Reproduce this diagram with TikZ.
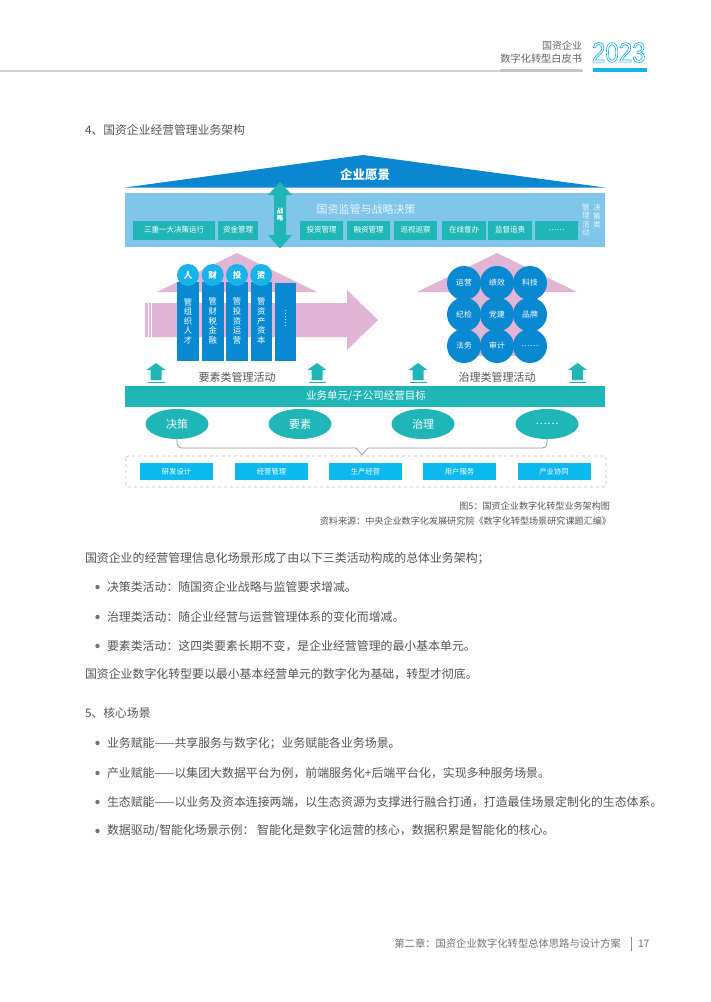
\documentclass[tikz,border=0pt]{standalone}
\usepackage{fontspec}
\setmainfont{Noto Sans CJK SC}
\newfontfamily\digitfont{Liberation Sans}
\usetikzlibrary{shapes.geometric,calc}
\definecolor{roofblue}{HTML}{0B87D1}
\definecolor{lightblue}{HTML}{80C5EA}
\definecolor{tealc}{HTML}{20B6B8}
\definecolor{colblue}{HTML}{0A89D3}
\definecolor{cyanc}{HTML}{19B3EC}
\definecolor{boxcyan}{HTML}{0BB9EF}
\definecolor{pinkc}{HTML}{E0B5D6}
\definecolor{txtgray}{HTML}{555555}
\definecolor{palewhite}{HTML}{E8F5FC}
\begin{document}
\begin{tikzpicture}[x=1pt,y=-1pt,
  every node/.style={inner sep=0pt,outer sep=0pt},
  tbox/.style={fill=tealc,text=white,font=\fontsize{7.5}{9}\selectfont,minimum height=19pt},
  cbox/.style={fill=boxcyan,text=white,font=\fontsize{7.3}{9}\selectfont,minimum height=17pt,minimum width=73pt},
  oval/.style={ellipse,fill=tealc,text=white,font=\fontsize{11}{13}\selectfont,minimum width=63pt,minimum height=30pt},
  colbar/.style={fill=colblue},
  coltext/.style={text=white,font=\fontsize{8.3}{9.6}\selectfont,align=center},
  topcirc/.style={circle,fill=cyanc,text=white,font=\bfseries\fontsize{8.5}{9}\selectfont,minimum size=22pt},
  gcirc/.style={circle,fill=colblue,text=white,font=\fontsize{7.8}{9}\selectfont,minimum size=34pt},
  bodytext/.style={anchor=west,text=txtgray,font=\fontsize{11.9}{13}\selectfont},
  headtext/.style={anchor=west,text=txtgray,font=\fontsize{11.8}{13}\selectfont},
  capt/.style={anchor=east,text=txtgray,font=\fontsize{9.1}{10}\selectfont},
  uparrow/.pic={\fill[tealc] (-9.5,7) -- (0,0) -- (9.5,7) -- (5.5,7) -- (5.5,17) -- (-5.5,17) -- (-5.5,7) -- cycle;
                \fill[tealc] (-8.5,18.5) rectangle (8.5,20);}
]
\useasboundingbox (0,0) rectangle (710,1002);
\fill[white] (0,0) rectangle (710,1002);

% ---------- header ----------
\fill[black!18] (0,70.2) rectangle (583,71.6);
\fill[black!22] (500,68.5) rectangle (582,72);
\node[anchor=east,text=black!60,font=\fontsize{10}{12}\selectfont] (h1) at (582,46) {国资企业};
\node[anchor=east,text=black!60,font=\fontsize{10.2}{12}\selectfont] (h2) at (582,59) {数字化转型白皮书};
\node[anchor=west,text=cyanc,xscale=0.86,font=\digitfont\fontsize{28}{30}\selectfont] (yr) at (592,52.5)
  {\special{pdf:literal direct 1 Tr 0.7 w}2023\special{pdf:literal direct 0 Tr}};
\fill[cyanc] (593,68) rectangle (647,72);

% ---------- heading 4 ----------
\node[headtext] (s4) at (85,130) {4、国资企业经营管理业务架构};

% ---------- roof ----------
\fill[roofblue] (125,187.5) -- (363,155) -- (605,187.5) -- cycle;
\node[text=white,font=\bfseries\fontsize{12.5}{14}\selectfont] (vision) at (365,175) {企业愿景};

% ---------- decision box ----------
\fill[lightblue] (125,192.5) rectangle (605,247);
\node[text=palewhite,font=\fontsize{11}{13}\selectfont] (gz) at (366,209) {国资监管与战略决策};
\node[tbox,minimum width=82pt] (b1) at (174,230) {三重一大决策运行};
\node[tbox,minimum width=40pt] (b2) at (238,230) {资金管理};
\node[tbox,minimum width=43pt] (b3) at (321.5,230) {投资管理};
\node[tbox,minimum width=43pt] (b4) at (368.5,230) {融资管理};
\node[tbox,minimum width=43pt] (b5) at (415.5,230) {巡视巡察};
\node[tbox,minimum width=44pt] (b6) at (464,230) {在线督办};
\node[tbox,minimum width=44pt] (b7) at (510,230) {监督追责};
\node[tbox,minimum width=43pt] (b8) at (556.5,230) {……};
\node[text=palewhite,font=\fontsize{7.6}{8.6}\selectfont,align=center] (v1) at (586,220) {管\\理\\活\\动};
\node[text=palewhite,font=\fontsize{7.6}{8.6}\selectfont,align=center] (v2) at (597,216.5) {决\\策\\类};
% double arrow
\fill[tealc] (280,182) -- (292,195) -- (286,195) -- (286,235) -- (292,235) -- (280,248.5)
  -- (268,235) -- (274,235) -- (274,195) -- (268,195) -- cycle;
\node[text=white,font=\bfseries\fontsize{6.5}{7.5}\selectfont,align=center] (zl) at (280,214.5) {战\\略};

% ---------- left: element activities ----------
\fill[pinkc] (157,292) -- (237,253) -- (317,292) -- cycle;
\fill[pinkc] (145,303) -- (347,303) -- (347,290) -- (378,320) -- (347,350) -- (347,337) -- (145,337) -- cycle;
\draw[white,line width=1.1pt] (148.3,303) -- (148.3,337) (151.6,303) -- (151.6,337);
\fill[colbar] (177,282) rectangle (199,361);
\fill[colbar] (202,282) rectangle (223.5,361);
\fill[colbar] (226,282) rectangle (248,361);
\fill[colbar] (250.5,282) rectangle (272,361);
\fill[colbar] (275,283) rectangle (296,361);
\node[topcirc] (c1) at (188,275) {人};
\node[topcirc] (c2) at (212.7,275) {财};
\node[topcirc] (c3) at (237,275) {投};
\node[topcirc] (c4) at (261.2,275) {资};
\node[coltext] (t1) at (188,321) {管\\组\\织\\人\\才};
\node[coltext] (t2) at (212.7,321) {管\\财\\税\\金\\融};
\node[coltext] (t3) at (237,321) {管\\投\\资\\运\\营};
\node[coltext] (t4) at (261.2,321) {管\\资\\产\\资\\本};
\node[text=white,font=\fontsize{8}{9}\selectfont,rotate=-90] (t5) at (285.5,318) {……};
\node[text=txtgray,font=\fontsize{11}{13}\selectfont] (ys) at (237,377) {要素类管理活动};

% ---------- right: governance activities ----------
\fill[pinkc] (417,292) -- (497,253) -- (577,292) -- cycle;
\fill[pinkc] (456,285) rectangle (538,356);
\node[gcirc] (g1) at (464,283) {运营};
\node[gcirc] (g2) at (497,283) {绩效};
\node[gcirc] (g3) at (530,283) {科技};
\node[gcirc] (g4) at (464,314.5) {纪检};
\node[gcirc] (g5) at (497,314.5) {党建};
\node[gcirc] (g6) at (530,314.5) {品牌};
\node[gcirc] (g7) at (464,346) {法务};
\node[gcirc] (g8) at (497,346) {审计};
\node[gcirc] (g9) at (530,346) {……};
\node[text=txtgray,font=\fontsize{11}{13}\selectfont] (zs) at (497,377) {治理类管理活动};

% up arrows
\pic at (156,363) {uparrow};
\pic at (317,363) {uparrow};
\pic at (418,363) {uparrow};
\pic at (577.5,363) {uparrow};

% ---------- business unit bar ----------
\fill[tealc] (125,386) rectangle (605,407);
\node[text=white,font=\fontsize{10.5}{12}\selectfont] (bu) at (366,396) {业务单元/子公司经营目标};

\node[oval] (e1) at (177,424) {决策};
\node[oval] (e2) at (300,424) {要素};
\node[oval] (e3) at (423,424) {治理};
\node[oval] (e4) at (547,424) {……};

% brace
\draw[black!40,line width=0.7pt] (e1.south) -- ++(0,4.5) arc[start angle=180,end angle=90,radius=4.5] -- (356,448) -- (362,455) -- (368,448)
  -- ($(e4.south)+(-4.5,9)$) arc[start angle=90,end angle=0,radius=4.5] -- (e4.south);

% dashed box
\draw[black!25,dashed,line width=0.6pt,rounded corners=2pt] (126,456) rectangle (606,487);
\node[cbox] (d1) at (176.5,471.5) {研发设计};
\node[cbox] (d2) at (271.5,471.5) {经营管理};
\node[cbox] (d3) at (365.5,471.5) {生产经营};
\node[cbox] (d4) at (459.5,471.5) {用户服务};
\node[cbox] (d5) at (554,471.5) {产业协同};

% captions
\node[capt] (cap1) at (610,506) {图5：国资企业数字化转型业务架构图};
\node[capt] (cap2) at (611,521) {资料来源：中央企业数字化发展研究院《数字化转型场景研究课题汇编》};

% ---------- body text ----------
\node[bodytext] (p1) at (85,558) {国资企业的经营管理信息化场景形成了由以下三类活动构成的总体业务架构；};
\fill[black!55] (97.5,587) circle (2.2);
\node[bodytext] (p2) at (107,587) {决策类活动：随国资企业战略与监管要求增减。};
\fill[black!55] (97.5,617) circle (2.2);
\node[bodytext] (p3) at (107,617) {治理类活动：随企业经营与运营管理体系的变化而增减。};
\fill[black!55] (97.5,646) circle (2.2);
\node[bodytext] (p4) at (107,646) {要素类活动：这四类要素长期不变，是企业经营管理的最小基本单元。};
\node[bodytext] (p5) at (85,674) {国资企业数字化转型要以最小基本经营单元的数字化为基础，转型才彻底。};

\node[headtext] (s5) at (85,713) {5、核心场景};
\fill[black!55] (97.5,743) circle (2.2);
\node[bodytext] (q1) at (107,743) {业务赋能——共享服务与数字化；业务赋能各业务场景。};
\fill[black!55] (97.5,773) circle (2.2);
\node[bodytext] (q2) at (107,773) {产业赋能——以集团大数据平台为例，前端服务化+后端平台化，实现多种服务场景。};
\fill[black!55] (97.5,802) circle (2.2);
\node[bodytext] (q3) at (107,802) {生态赋能——以业务及资本连接两端，以生态资源为支撑进行融合打通，打造最佳场景定制化的生态体系。};
\fill[black!55] (97.5,831) circle (2.2);
\node[bodytext] (q4) at (107,831) {数据驱动/智能化场景示例： 智能化是数字化运营的核心，数据积累是智能化的核心。};

% ---------- footer ----------
\node[anchor=east,text=black!55,font=\fontsize{10.3}{12}\selectfont] (ft) at (621,944) {第二章：国资企业数字化转型总体思路与设计方案};
\draw[black!45,line width=0.6pt] (631,937) -- (631,951);
\node[anchor=west,text=black!55,font=\fontsize{10.3}{12}\selectfont] (pg) at (638,944) {17};
\end{tikzpicture}
\end{document}
